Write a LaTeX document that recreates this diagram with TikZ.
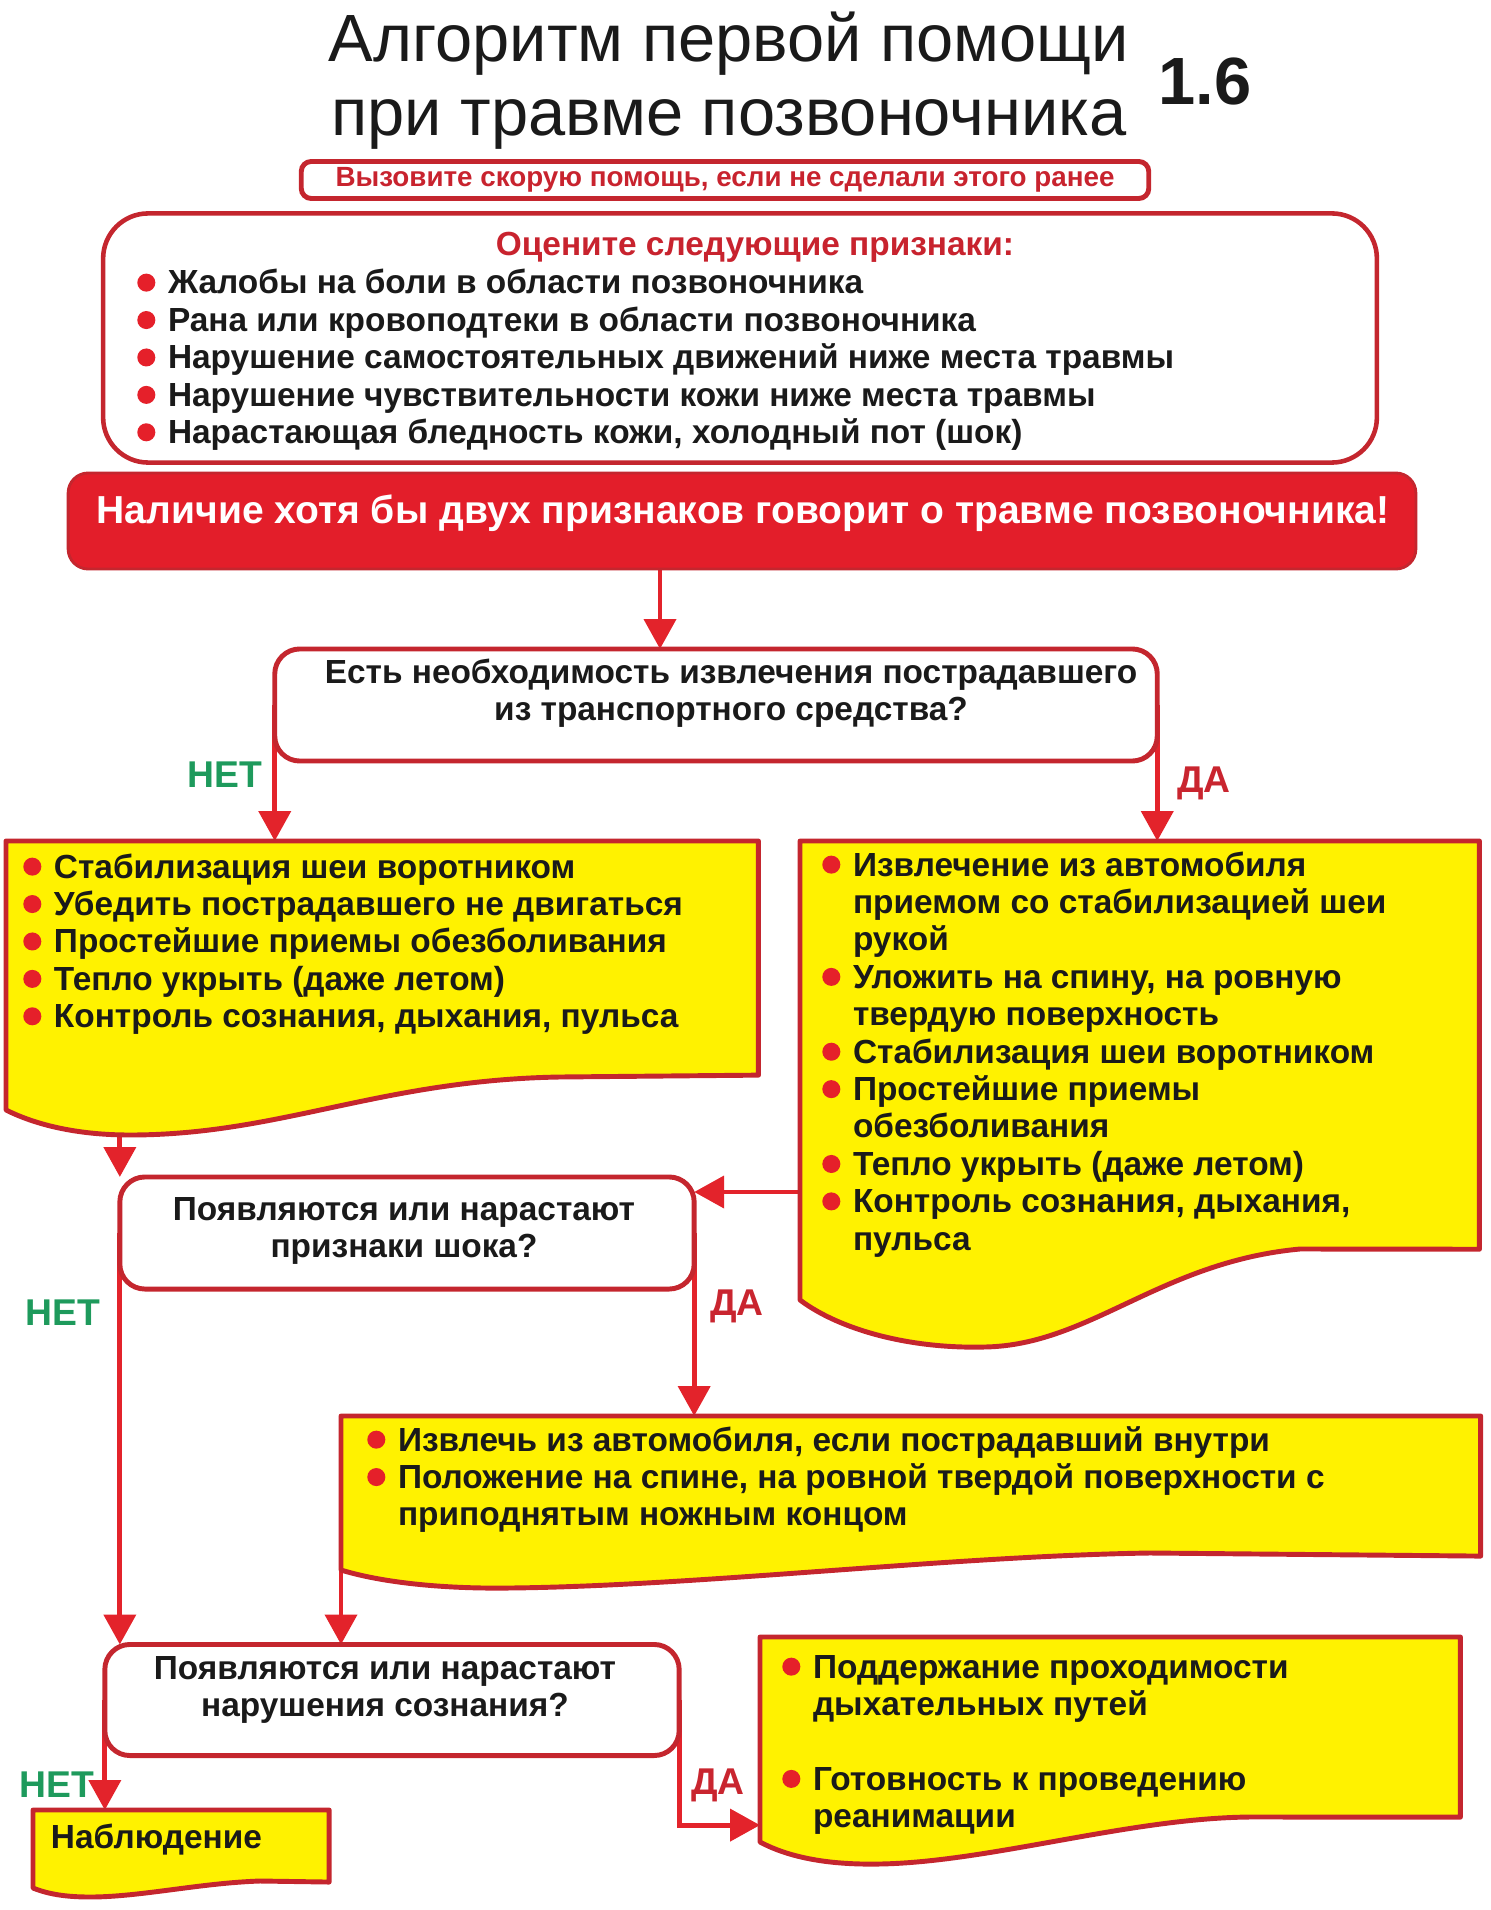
\documentclass[tikz,border=0pt]{standalone}
\usepackage{fontspec}
\setmainfont{Liberation Sans}
\usepackage{xcolor}
\usetikzlibrary{arrows.meta,calc,positioning}

\definecolor{boxred}{HTML}{C4262E}
\definecolor{arrred}{HTML}{E3232B}
\definecolor{bannerred}{HTML}{E31E2A}
\definecolor{dotred}{HTML}{E5202A}
\definecolor{headred}{HTML}{C8232E}
\definecolor{yesred}{HTML}{C9252F}
\definecolor{nogreen}{HTML}{1E9A5C}
\definecolor{yellowfill}{HTML}{FFF200}
\definecolor{inkgray}{HTML}{1A1A1A}

\pgfdeclarelayer{links}
\pgfdeclarelayer{shapes}
\pgfsetlayers{links,shapes,main}

\newcommand{\boxfont}{\fontsize{9.5}{10.64}\selectfont\bfseries}
\newcommand{\dotitem}{\llap{\tikz[baseline=0pt]\fill[dotred] (0pt,0.34em) circle[radius=0.27em];\hspace{3.6pt}}}

\begin{document}
\begin{tikzpicture}[x=0.01cm, y=-0.01cm,
  every node/.style={inner sep=0pt, outer sep=0pt, text=inkgray},
  roundbox/.style={draw=boxred, line width=1.4pt, fill=white, rounded corners=0.25cm},
  docframe/.style={anchor=north west},
  docline/.style={draw=boxred, line width=1.4pt, fill=yellowfill, line join=round},
  boxtxt/.style={anchor=base west, font=\boxfont},
  qtxt/.style={anchor=base, font=\boxfont},
  arr/.style={draw=arrred, line width=1.4pt, -{Triangle[length=8.5pt, width=9pt]}},
  nolbl/.style={text=nogreen, font=\fontsize{10.6}{12}\selectfont\bfseries},
  yeslbl/.style={text=yesred, font=\fontsize{10.6}{12}\selectfont\bfseries}]

  \useasboundingbox (0,0) rectangle (1490,1910);

  % title
  \node[anchor=base, font=\fontsize{19}{20.8}\selectfont] (title) at (729,62)
    {\begin{tabular}[t]{@{}c@{}}Алгоритм первой помощи\\при травме позвоночника\end{tabular}};
  \node[anchor=base, font=\fontsize{19}{20}\selectfont\bfseries] (num) at (1205,105) {1.6};

  % call and signs
  \node[draw=boxred, line width=1.4pt, rounded corners=0.1cm, minimum width=8.47cm,
    minimum height=0.37cm, text=headred, font=\fontsize{7.9}{9}\selectfont\bfseries] (call) at (725,180)
    {\raisebox{-1pt}{Вызовите скорую помощь, если не сделали этого ранее}};
  \node[draw=boxred, line width=1.3pt, fill=white, rounded corners=0.45cm,
    minimum width=12.73cm, minimum height=2.49cm] (signs) at (740,338) {};
  \node[anchor=base, text=headred, font=\boxfont] (signshead) at (755,256) {Оцените следующие признаки:};
  \node[boxtxt] (signslist) at (168,294) {\begin{tabular}[t]{@{}l@{}}
    \dotitem Жалобы на боли в области позвоночника\\
    \dotitem Рана или кровоподтеки в области позвоночника\\
    \dotitem Нарушение самостоятельных движений ниже места травмы\\
    \dotitem Нарушение чувствительности кожи ниже места травмы\\
    \dotitem Нарастающая бледность кожи, холодный пот (шок)\end{tabular}};

  % banner
  \node[fill=bannerred, draw=boxred, line width=0.8pt, rounded corners=0.2cm,
    minimum width=13.47cm, minimum height=0.96cm] (banner) at (742,521) {};
  \node[anchor=base, text=white, font=\fontsize{11.1}{12}\selectfont\bfseries] (bannertxt) at (743,524)
    {Наличие хотя бы двух признаков говорит о травме позвоночника!};

  % questions
  \node[roundbox, minimum width=8.82cm, minimum height=1.12cm] (needext) at (716,705) {};
  \node[qtxt] (needexttxt) at (731,683) {\begin{tabular}[t]{@{}c@{}}Есть необходимость извлечения пострадавшего\\из транспортного средства?\end{tabular}};
  \node[roundbox, minimum width=5.74cm, minimum height=1.12cm] (shock) at (407,1233) {};
  \node[qtxt] (shocktxt) at (404,1220) {\begin{tabular}[t]{@{}c@{}}Появляются или нарастают\\признаки шока?\end{tabular}};
  \node[roundbox, minimum width=5.74cm, minimum height=1.11cm] (consc) at (392,1700) {};
  \node[qtxt] (consctxt) at (385,1679) {\begin{tabular}[t]{@{}c@{}}Появляются или нарастают\\нарушения сознания?\end{tabular}};

  % action boxes
  \node[docframe, minimum width=7.52cm, minimum height=2.34cm] (stayact) at (6,841) {};
  \node[docframe, minimum width=6.79cm, minimum height=4.08cm] (extract) at (800,841) {};
  \node[docframe, minimum width=11.39cm, minimum height=1.40cm] (shockact) at (341,1416) {};
  \node[docframe, minimum width=7.00cm, minimum height=1.80cm] (airway) at (760,1637) {};
  \node[docframe, minimum width=2.96cm, minimum height=0.72cm] (watch) at (33,1810) {};

  \begin{pgfonlayer}{shapes}
    \filldraw[docline] (stayact.north west) -- (stayact.north east) -- (stayact.south east) -- (560,1077)
      .. controls (380,1080) and (280,1135) .. (130,1135) .. controls (70,1135) and (30,1122) .. (6,1110) -- cycle;
    \filldraw[docline] (extract.north west) -- (extract.north east) -- (extract.south east) -- (1300,1249)
      .. controls (1160,1262) and (1090,1345) .. (985,1347) .. controls (910,1349) and (840,1330) .. (800,1300) -- cycle;
    \filldraw[docline] (shockact.north west) -- (shockact.north east) -- (shockact.south east) -- (1150,1553)
      .. controls (950,1556) and (700,1586) .. (510,1588) .. controls (440,1589) and (380,1582) .. (341,1570) -- cycle;
    \filldraw[docline] (airway.north west) -- (airway.north east) -- (airway.south east) -- (1250,1817)
      .. controls (1130,1818) and (990,1862) .. (880,1864) .. controls (830,1865) and (790,1858) .. (760,1842) -- cycle;
    \filldraw[docline] (watch.north west) -- (watch.north east) -- (watch.south east) -- (260,1881)
      .. controls (200,1883) and (140,1897) .. (90,1897) .. controls (65,1897) and (48,1894) .. (33,1888) -- cycle;
  \end{pgfonlayer}

  \node[boxtxt] (stayacttxt) at (54,878) {\begin{tabular}[t]{@{}l@{}}
    \dotitem Стабилизация шеи воротником\\
    \dotitem Убедить пострадавшего не двигаться\\
    \dotitem Простейшие приемы обезболивания\\
    \dotitem Тепло укрыть (даже летом)\\
    \dotitem Контроль сознания, дыхания, пульса\end{tabular}};
  \node[boxtxt] (extracttxt) at (853,876) {\begin{tabular}[t]{@{}l@{}}
    \dotitem Извлечение из автомобиля\\
    приемом со стабилизацией шеи\\
    рукой\\
    \dotitem Уложить на спину, на ровную\\
    твердую поверхность\\
    \dotitem Стабилизация шеи воротником\\
    \dotitem Простейшие приемы\\
    обезболивания\\
    \dotitem Тепло укрыть (даже летом)\\
    \dotitem Контроль сознания, дыхания,\\
    пульса\end{tabular}};
  \node[boxtxt] (shockacttxt) at (398,1451) {\begin{tabular}[t]{@{}l@{}}
    \dotitem Извлечь из автомобиля, если пострадавший внутри\\
    \dotitem Положение на спине, на ровной твердой поверхности с\\
    приподнятым ножным концом\end{tabular}};
  \node[boxtxt] (airwaytxt) at (813,1678) {\begin{tabular}[t]{@{}l@{}}
    \dotitem Поддержание проходимости\\
    дыхательных путей\\
    \\
    \dotitem Готовность к проведению\\
    реанимации\end{tabular}};
  \node[boxtxt] (watchtxt) at (51,1848) {Наблюдение};

  % labels
  \node[nolbl] (no1) at (225,775) {НЕТ};
  \node[yeslbl] (yes1) at (1204,783) {ДА};
  \node[nolbl] (no2) at (63,1313) {НЕТ};
  \node[yeslbl] (yes2) at (737,1306) {ДА};
  \node[nolbl] (no3) at (57,1785) {НЕТ};
  \node[yeslbl] (yes3) at (718,1785) {ДА};

  % connectors
  \begin{pgfonlayer}{links}
    \draw[arr] ($(banner.south)+(-82,0)$) coordinate (a1) -- (a1 |- needext.north);
    \draw[arr] (needext.west) -- (needext.west |- stayact.north);
    \draw[arr] (needext.east) -- (needext.east |- extract.north);
    \draw[arr] (stayact.south -| shock.north west) -- (shock.north west);
    \draw[arr] ($(shock.east)+(0,-41)$) coordinate (a5) (extract.west |- a5) -- (a5);
    \draw[arr] (shock.west) -- (shock.west |- consc.north);
    \draw[arr] (shock.east) -- (shock.east |- shockact.north);
    \draw[arr] (shockact.south west) -- (shockact.south west |- consc.north);
    \draw[arr] (consc.west) -- (consc.west |- watch.north);
    \draw[arr] ($(airway.south west)+(0,8)$) coordinate (a10) (consc.east) |- (a10);
  \end{pgfonlayer}
\end{tikzpicture}
\end{document}
